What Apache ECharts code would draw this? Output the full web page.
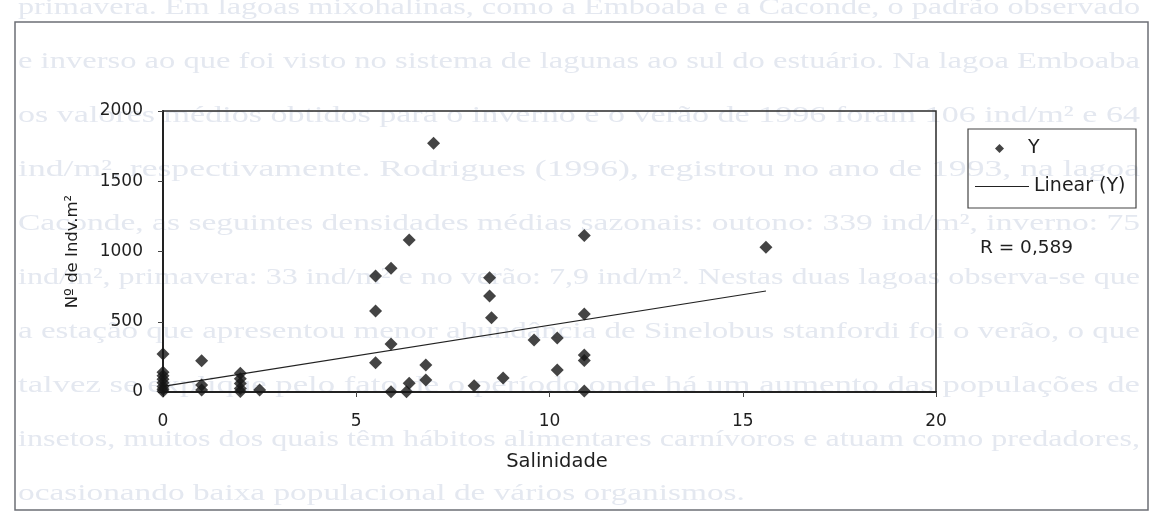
<!DOCTYPE html>
<html>
<head>
<meta charset="utf-8">
<style>
html,body{margin:0;padding:0;background:#ffffff;}
#c{width:1151px;height:515px;}
</style>
<script src="https://cdn.jsdelivr.net/npm/echarts@6.0.0/dist/echarts.min.js"></script>
</head>
<body>
<div id="c"></div>
<script>
// ---- data ----
const salinity = [0,0,0,0,0,0,0,0, 1.0,1.0,1.0, 2.0,2.0,2.0,2.0,2.0, 2.5, 5.5,5.5,5.5, 5.9,5.9,5.9, 6.3, 6.37,6.37, 6.8,6.8, 7.0, 8.05, 8.45,8.45, 8.5, 8.8, 9.6, 10.2,10.2, 10.9,10.9,10.9,10.9,10.9, 15.6];
const density  = [270,140,115,90,65,40,20,5, 223,50,15, 133,95,60,25,3, 14, 825,576,209, 880,341,2, 2, 1082,62, 192,85, 1770, 45, 814,683, 529, 100, 370, 385,157, 1113,555,263,225,8, 1030];
const trendSalinity = [0, 15.6];
const trendDensity = [40, 719];
const xTicks = [0, 5, 10, 15, 20];
const yTicks = [0, 500, 1000, 1500, 2000];
const seriesNames = ['Y', 'Linear (Y)'];
const xAxisName = 'Salinidade';
const yAxisName = 'Nº de Indv.m²';
const rLabel = 'R = 0,589';
const pageLines = [
  'primavera. Em lagoas mixohalinas, como a Emboaba e a Caconde, o padrão observado',
  'e inverso ao que foi visto no sistema de lagunas ao sul do estuário. Na lagoa Emboaba',
  'os valores médios obtidos para o inverno e o verão de 1996 foram 106 ind/m² e 64',
  'ind/m², respectivamente. Rodrigues (1996), registrou no ano de 1993, na lagoa',
  'Caconde, as seguintes densidades médias sazonais: outono: 339 ind/m², inverno: 75',
  'ind/m², primavera: 33 ind/m² e no verão: 7,9 ind/m². Nestas duas lagoas observa-se que',
  'a estação que apresentou menor abundância de Sinelobus stanfordi foi o verão, o que',
  'talvez se explique pelo fato de o período onde há um aumento das populações de',
  'insetos, muitos dos quais têm hábitos alimentares carnívoros e atuam como predadores,',
  'ocasionando baixa populacional de vários organismos.'
];

// ---- build ----
const scatterData = salinity.map((s, i) => [s, density[i]]);
const trendData = trendSalinity.map((s, i) => [s, trendDensity[i]]);

const bgFont = '23px "Liberation Serif"';
const ctx = document.createElement('canvas').getContext('2d');
ctx.font = bgFont;
const fullW = 1122;
const scales = pageLines.map(t => fullW / ctx.measureText(t).width);
const avgScale = scales.slice(0, scales.length - 1).reduce((a, b) => a + b, 0) / (scales.length - 1);
const bgText = pageLines.map((t, i) => ({
  type: 'text',
  z: -10,
  x: 18,
  y: 8 + i * 54,
  scaleX: i === pageLines.length - 1 ? avgScale : scales[i],
  silent: true,
  style: { text: t, font: bgFont, fill: '#e4e8f0', verticalAlign: 'middle', align: 'left' }
}));

const font = 'DejaVu Sans';
const txt = '#1f1f1f';
const chart = echarts.init(document.getElementById('c'), null, { renderer: 'canvas' });
chart.setOption({
  animation: false,
  backgroundColor: '#ffffff',
  grid: {
    left: 163, right: 215, top: 111, bottom: 123,
    show: true, borderColor: '#2a2a2a', borderWidth: 1.5, backgroundColor: 'transparent'
  },
  xAxis: {
    type: 'value', min: xTicks[0], max: xTicks[xTicks.length - 1], interval: xTicks[1] - xTicks[0],
    name: xAxisName, nameLocation: 'middle', nameGap: 60,
    nameTextStyle: { fontFamily: font, fontSize: 19.5, color: txt, padding: [0, 0, 0, 15] },
    axisLine: { show: true, onZero: false, lineStyle: { color: '#222', width: 2 } },
    axisTick: { show: true, inside: false, length: 5, lineStyle: { color: '#444', width: 1 } },
    axisLabel: { fontFamily: font, fontSize: 17, color: txt, margin: 21, formatter: v => String(v) },
    splitLine: { show: false }
  },
  yAxis: {
    type: 'value', min: yTicks[0], max: yTicks[yTicks.length - 1], interval: yTicks[1] - yTicks[0],
    name: yAxisName, nameLocation: 'middle', nameGap: 82, nameRotate: 90,
    nameTextStyle: { fontFamily: font, fontSize: 16.5, color: txt },
    axisLine: { show: true, onZero: false, lineStyle: { color: '#222', width: 2 } },
    axisTick: { show: true, inside: false, length: 5, lineStyle: { color: '#444', width: 1 } },
    axisLabel: { fontFamily: font, fontSize: 17, color: txt, margin: 20, formatter: v => String(v) },
    splitLine: { show: false }
  },
  legend: [
    {
      orient: 'vertical', left: 995, top: 139, padding: 0,
      itemWidth: 9, itemHeight: 9,
      textStyle: { fontFamily: font, fontSize: 19, color: txt, padding: [0, 0, 0, 19] },
      itemStyle: { borderWidth: 0 },
      data: [{ name: seriesNames[0], icon: 'diamond' }]
    },
    {
      orient: 'vertical', left: 975, top: 177, padding: 0,
      itemWidth: 54, itemHeight: 9,
      textStyle: { fontFamily: font, fontSize: 19, color: txt },
      itemStyle: { borderWidth: 0 },
      data: [{ name: seriesNames[1], icon: 'path://M0,0L100,0L100,2L0,2Z' }]
    }
  ],
  graphic: bgText.concat([
    {
      type: 'rect', z: -5, silent: true,
      shape: { x: 15, y: 22, width: 1133, height: 488 },
      style: { fill: 'none', stroke: '#6c6f75', lineWidth: 1.5 }
    },
    {
      type: 'rect', z: 5, silent: true,
      shape: { x: 968, y: 129, width: 168, height: 79 },
      style: { fill: 'none', stroke: '#444', lineWidth: 1.2 }
    },
    {
      type: 'text', x: 980, y: 248, silent: true,
      style: { text: rLabel, font: '18.5px "DejaVu Sans"', fill: txt, verticalAlign: 'middle', align: 'left' }
    }
  ]),
  series: [
    {
      name: seriesNames[0], type: 'scatter', data: scatterData,
      symbol: 'diamond', symbolSize: 13,
      itemStyle: { color: '#151515' }, z: 3
    },
    {
      name: seriesNames[1], type: 'line', data: trendData,
      symbol: 'none', showSymbol: false,
      lineStyle: { color: '#222', width: 1.2 }, itemStyle: { color: '#222' }, z: 2
    }
  ]
});
</script>
</body>
</html>
